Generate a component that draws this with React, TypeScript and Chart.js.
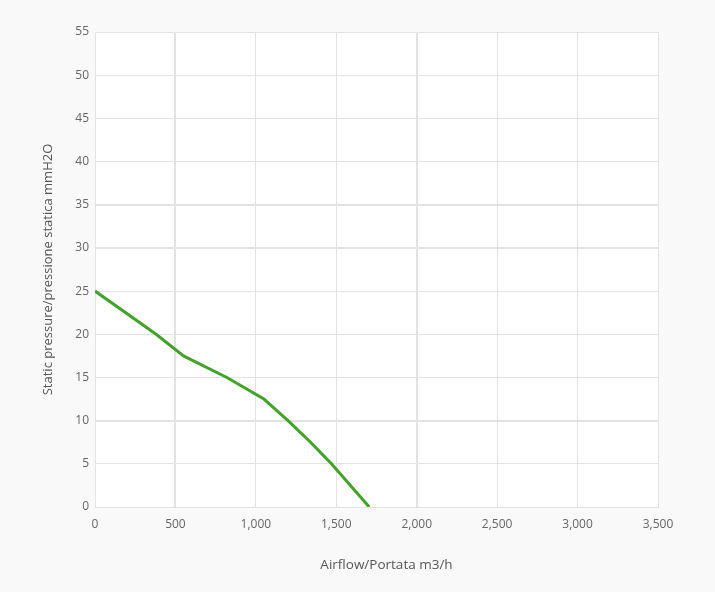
import React, { useEffect, useRef } from "react";
import { Chart, registerables } from "chart.js";

Chart.register(...registerables);

const airflow = [0, 380, 550, 820, 1050, 1200, 1340, 1470, 1705];
const pressure = [25, 20, 17.5, 15, 12.5, 10, 7.5, 5, 0];
const xTitle = "Airflow/Portata m3/h";
const yTitle = "Static pressure/pressione statica mmH2O";
const xHeavyTicks = [500, 2000];
const yHeavyTicks = [10, 30, 35];

const bgPlugin = {
  id: "bgPlugin",
  beforeDraw(chart: any) {
    const { ctx, chartArea } = chart;
    ctx.save();
    ctx.fillStyle = "#f9f9f9";
    ctx.fillRect(0, 0, chart.width, chart.height);
    ctx.fillStyle = "#ffffff";
    ctx.fillRect(chartArea.left, chartArea.top, chartArea.right - chartArea.left, chartArea.bottom - chartArea.top);
    ctx.restore();
  },
};

const xTitlePlugin = {
  id: "xTitlePlugin",
  afterDraw(chart: any) {
    const { ctx, chartArea } = chart;
    ctx.save();
    ctx.font = "13.5px 'Open Sans'";
    ctx.fillStyle = "#555";
    ctx.textAlign = "center";
    ctx.textBaseline = "middle";
    ctx.fillText(xTitle, (chartArea.left + chartArea.right) / 2 + 10, chartArea.bottom + 58);
    ctx.restore();
  },
};

export default function App() {
  const ref = useRef<HTMLCanvasElement>(null);
  useEffect(() => {
    document.body.style.margin = "0";
    document.body.style.background = "#f9f9f9";
    const chart = new Chart(ref.current!, {
      type: "line",
      data: {
        datasets: [
          {
            data: airflow.map((x, i) => ({ x, y: pressure[i] })),
            borderColor: "#43a22b",
            borderWidth: 3,
            pointRadius: 0,
            tension: 0,
            fill: false,
          },
        ],
      },
      plugins: [bgPlugin, xTitlePlugin],
      options: {
        responsive: false,
        animation: false,
        layout: { padding: { top: 32, right: 57, left: 0, bottom: 0 } },
        plugins: { legend: { display: false }, tooltip: { enabled: false } },
        scales: {
          x: {
            type: "linear",
            min: 0,
            max: 3500,
            ticks: {
              stepSize: 500,
              padding: 10,
              color: "#666",
              font: { family: "'Open Sans'", size: 12 },
            },
            grid: {
              color: "#e3e3e3",
              drawTicks: false,
              lineWidth: (c: any) => (c.tick && xHeavyTicks.includes(c.tick.value) ? 2 : 1),
            },
            border: { color: "#e3e3e3" },
            title: { display: false },
            afterFit(scale: any) {
              scale.height = 85;
            },
          },
          y: {
            type: "linear",
            min: 0,
            max: 55,
            ticks: {
              stepSize: 5,
              padding: 6,
              color: "#666",
              font: { family: "'Open Sans'", size: 12 },
            },
            grid: {
              color: "#e3e3e3",
              drawTicks: false,
              lineWidth: (c: any) => (c.tick && yHeavyTicks.includes(c.tick.value) ? 2 : 1),
            },
            border: { color: "#e3e3e3" },
            title: {
              display: true,
              text: yTitle,
              color: "#555",
              font: { family: "'Open Sans'", size: 13 },
              padding: { top: 40, bottom: 0 },
            },
            afterFit(scale: any) {
              scale.width = 95;
            },
          },
        },
      },
    });
    return () => chart.destroy();
  }, []);
  return <canvas ref={ref} width={715} height={592} style={{ display: "block" }} />;
}
